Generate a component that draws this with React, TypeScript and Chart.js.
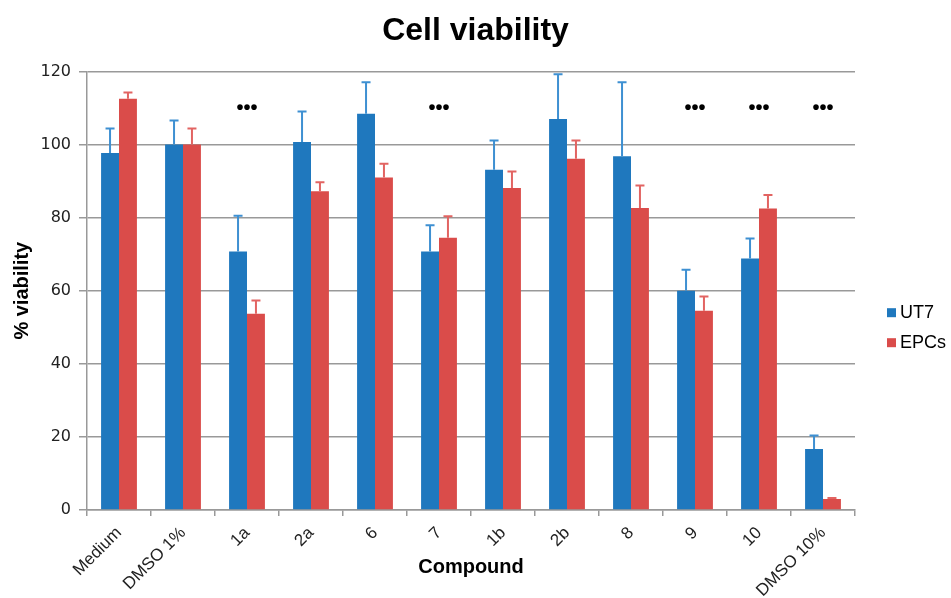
import React, { useEffect, useRef } from "react";
import { Chart, registerables } from "chart.js";

Chart.register(...registerables);

const categories = ["Medium", "DMSO 1%", "1a", "2a", "6", "7", "1b", "2b", "8", "9", "10", "DMSO 10%"];
const ut7Values = [97.7, 100, 70.7, 100.7, 108.4, 70.7, 93.1, 107.0, 96.8, 60.0, 68.8, 16.7];
const ut7Errors = [6.7, 6.6, 9.8, 8.3, 8.6, 7.2, 8.0, 12.2, 20.2, 5.7, 5.5, 3.7];
const epcValues = [112.5, 100, 53.7, 87.2, 91.0, 74.5, 88.1, 96.1, 82.6, 54.5, 82.5, 3.0];
const epcErrors = [1.7, 4.4, 3.6, 2.5, 3.7, 5.9, 4.5, 5.0, 6.2, 3.9, 3.7, 0.3];
const significance = ["", "", "•••", "", "", "•••", "", "", "", "•••", "•••", "•••"];
const significanceLevel = 109.8;
const yTicks = [0, 20, 40, 60, 80, 100, 120];

const BLUE = "#1F78BE";
const RED = "#DA4C4A";
const BLUE_ERR = "#3E90D2";
const RED_ERR = "#E26462";
const FONT = "'Liberation Sans', Arial, sans-serif";

const errorBarPlugin = {
  id: "errorBars",
  afterDatasetsDraw(chart: any) {
    const ctx = chart.ctx;
    const yScale = chart.scales.y;
    chart.data.datasets.forEach((ds: any, di: number) => {
      const meta = chart.getDatasetMeta(di);
      const errs: number[] = ds.errors;
      ctx.save();
      ctx.strokeStyle = ds.errorColor;
      ctx.lineWidth = 2;
      meta.data.forEach((bar: any, i: number) => {
        const v = ds.data[i];
        const top = yScale.getPixelForValue(v + errs[i]);
        const base = yScale.getPixelForValue(v);
        ctx.beginPath();
        ctx.moveTo(bar.x, base);
        ctx.lineTo(bar.x, top);
        ctx.moveTo(bar.x - 4.5, top);
        ctx.lineTo(bar.x + 4.5, top);
        ctx.stroke();
      });
      ctx.restore();
    });
    const xScale = chart.scales.x;
    ctx.save();
    ctx.fillStyle = "#000";
    ctx.font = `bold 20px ${FONT}`;
    ctx.textAlign = "center";
    ctx.textBaseline = "middle";
    significance.forEach((s, i) => {
      if (!s) return;
      ctx.fillText(s, xScale.getPixelForValue(i), yScale.getPixelForValue(significanceLevel));
    });
    ctx.restore();
  },
};

const legendPlugin = {
  id: "sideLegend",
  afterDraw(chart: any) {
    const ctx = chart.ctx;
    const area = chart.chartArea;
    const cy = (area.top + area.bottom) / 2;
    ctx.save();
    ctx.font = `18px ${FONT}`;
    ctx.textBaseline = "middle";
    ctx.textAlign = "left";
    chart.data.datasets.forEach((ds: any, i: number) => {
      const y = cy + 22 + i * 30;
      const x = area.right + 32;
      ctx.fillStyle = ds.backgroundColor;
      ctx.fillRect(x, y - 4.5, 9, 9);
      ctx.fillStyle = "#000";
      ctx.fillText(ds.label, x + 13, y);
    });
    ctx.restore();
  },
};

export default function App() {
  const ref = useRef<HTMLCanvasElement>(null);
  useEffect(() => {
    if (!ref.current) return;
    const chart = new Chart(ref.current, {
      type: "bar",
      data: {
        labels: categories,
        datasets: [
          { label: "UT7", data: ut7Values, backgroundColor: BLUE, errors: ut7Errors, errorColor: BLUE_ERR } as any,
          { label: "EPCs", data: epcValues, backgroundColor: RED, errors: epcErrors, errorColor: RED_ERR } as any,
        ],
      },
      plugins: [errorBarPlugin, legendPlugin],
      options: {
        animation: false,
        responsive: true,
        maintainAspectRatio: false,
        datasets: { bar: { categoryPercentage: 0.56, barPercentage: 1.0 } },
        layout: { padding: { left: 0, right: 0, top: 0, bottom: 0 } },
        plugins: {
          title: {
            display: true,
            text: "Cell viability",
            color: "#000",
            font: { family: FONT, size: 32, weight: "bold" },
            padding: { top: 12, bottom: 21 },
          },
          legend: { display: false },
          tooltip: { enabled: false },
        },
        scales: {
          x: {
            grid: { display: true, drawOnChartArea: false, drawTicks: true, tickLength: 6, color: "#999", lineWidth: 1.5, offset: true },
            border: { color: "#999", width: 1.5 },
            ticks: {
              maxRotation: 45,
              minRotation: 45,
              color: "#222",
              font: { family: FONT, size: 17 },
              padding: 7,
            },
            title: {
              display: true,
              text: "Compound",
              color: "#000",
              font: { family: FONT, size: 20, weight: "bold" },
              padding: { top: 0, bottom: 19 },
            },
            afterFit(scale: any) {
              scale.height = 88;
            },
          },
          y: {
            min: 0,
            max: 120,
            afterBuildTicks(scale: any) {
              scale.ticks = yTicks.map((v) => ({ value: v }));
            },
            grid: { color: "#999", lineWidth: 1.5, tickLength: 8 },
            border: { color: "#999", width: 1.5 },
            ticks: {
              color: "#222",
              font: { family: "'DejaVu Sans', sans-serif", size: 16 },
              padding: 8,
            },
            title: {
              display: true,
              text: "% viability",
              color: "#000",
              font: { family: FONT, size: 20, weight: "bold" },
              padding: { top: 10, bottom: 10 },
            },
            afterFit(scale: any) {
              scale.width = 87;
            },
          },
          legendSpace: {
            type: "linear",
            position: "right",
            display: true,
            grid: { display: false, drawTicks: false },
            border: { display: false },
            ticks: { display: false },
            afterFit(scale: any) {
              scale.width = 96;
            },
          },
        },
      } as any,
    });
    return () => chart.destroy();
  }, []);
  return (
    <div style={{ position: "absolute", left: 0, top: 0, width: 951, height: 598, background: "#fff" }}>
      <canvas ref={ref} />
    </div>
  );
}
